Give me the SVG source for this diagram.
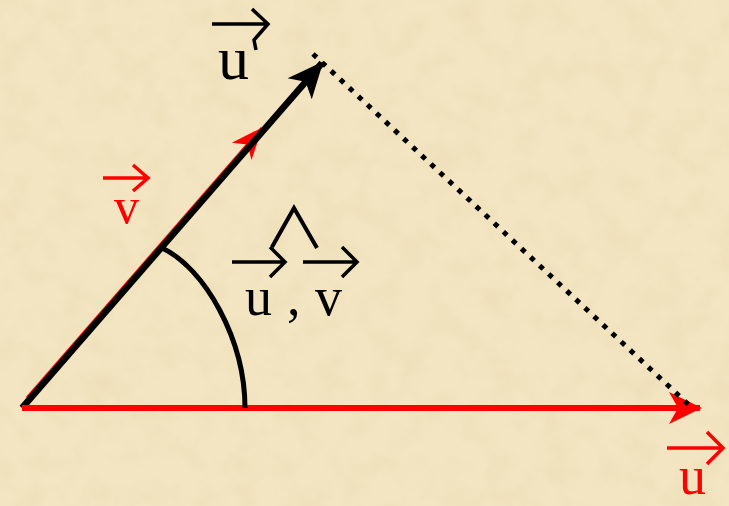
<svg xmlns="http://www.w3.org/2000/svg" width="729" height="506" viewBox="0 0 729 506">
<defs>
<style>
.lbl{font-family:"Liberation Serif","Times New Roman",serif;}
.blk{fill:#000;}
.red{fill:#ff0000;}
.oa{fill:none;stroke-linecap:butt;stroke-linejoin:miter;}
</style>
<filter id="tex" x="0" y="0" width="100%" height="100%">
<feTurbulence type="fractalNoise" baseFrequency="0.035" numOctaves="4" seed="7"/>
<feColorMatrix values="0 0 0 0 0.80  0 0 0 0 0.68  0 0 0 0 0.44  0.8 0 0 0 -0.32"/>
</filter>
<marker id="mBlk" markerUnits="userSpaceOnUse" viewBox="-40 -20 44 40" markerWidth="44" markerHeight="40" refX="0" refY="0" orient="auto" overflow="visible">
<path d="M2,0 L-34,-16 L-25,0 L-34,16 Z" fill="#000"/>
</marker>
<marker id="mRed" markerUnits="userSpaceOnUse" viewBox="-40 -20 44 40" markerWidth="44" markerHeight="40" refX="0" refY="0" orient="auto" overflow="visible">
<path d="M2,0 L-31,-16 L-22,0 L-31,16 Z" fill="#ff0000"/>
</marker>
<marker id="mRedS" markerUnits="userSpaceOnUse" viewBox="-40 -20 44 40" markerWidth="44" markerHeight="40" refX="0" refY="0" orient="auto" overflow="visible">
<path d="M1,0 L-31,-13 L-22,0 L-31,13 Z" fill="#ff0000"/>
</marker>
</defs>
<g id="background">
<rect x="0" y="0" width="729" height="506" fill="#f3e5c1"/>
<rect x="0" y="0" width="729" height="506" filter="url(#tex)"/>
</g>
<g id="connectors">
<line id="v-vector" x1="27" y1="398" x2="262" y2="128" stroke="#ff0000" stroke-width="3" marker-end="url(#mRedS)"/>
<line id="u-prime-vector" x1="22" y1="408" x2="322" y2="63" stroke="#000" stroke-width="6.5" marker-end="url(#mBlk)"/>
<line id="u-vector" x1="22" y1="408" x2="700" y2="408" stroke="#ff0000" stroke-width="6" marker-end="url(#mRed)"/>
<line id="projection" x1="313" y1="54" x2="690" y2="406" stroke="#000" stroke-width="5" stroke-dasharray="5 7.4"/>
<path id="angle-arc" d="M162,248 C205,268 245,340 245,408" fill="none" stroke="#000" stroke-width="5"/>
</g>
<g id="label-u-prime">
<path class="oa" d="M212,24 L266,24 M252,9 L268,24 L254,40 L256,50" stroke="#000" stroke-width="3.5"/>
<text class="lbl blk" x="218" y="79" font-size="62">u</text>
</g>
<g id="label-v">
<path class="oa" d="M103,178 L146,178 M133,165 L148,178 L133,191" stroke="#ff0000" stroke-width="3.5"/>
<text class="lbl red" x="114" y="223" font-size="50">v</text>
</g>
<g id="label-angle">
<polyline class="oa" points="272,247 294,208 317,248" stroke="#000" stroke-width="4"/>
<path class="oa" d="M232,262 L283,262 M270,247 L285,262 L270,277" stroke="#000" stroke-width="3.5"/>
<path class="oa" d="M303,262 L355,262 M342,247 L357,262 L342,277" stroke="#000" stroke-width="3.5"/>
<text class="lbl blk" x="245" y="315" font-size="54">u</text>
<text class="lbl blk" x="287" y="315" font-size="54">,</text>
<text class="lbl blk" x="315" y="315" font-size="54">v</text>
</g>
<g id="label-u">
<path class="oa" d="M667,448 L721,448 M707,432 L723,448 L707,464" stroke="#ff0000" stroke-width="3.5"/>
<text class="lbl red" x="679" y="494" font-size="54">u</text>
</g>
</svg>
